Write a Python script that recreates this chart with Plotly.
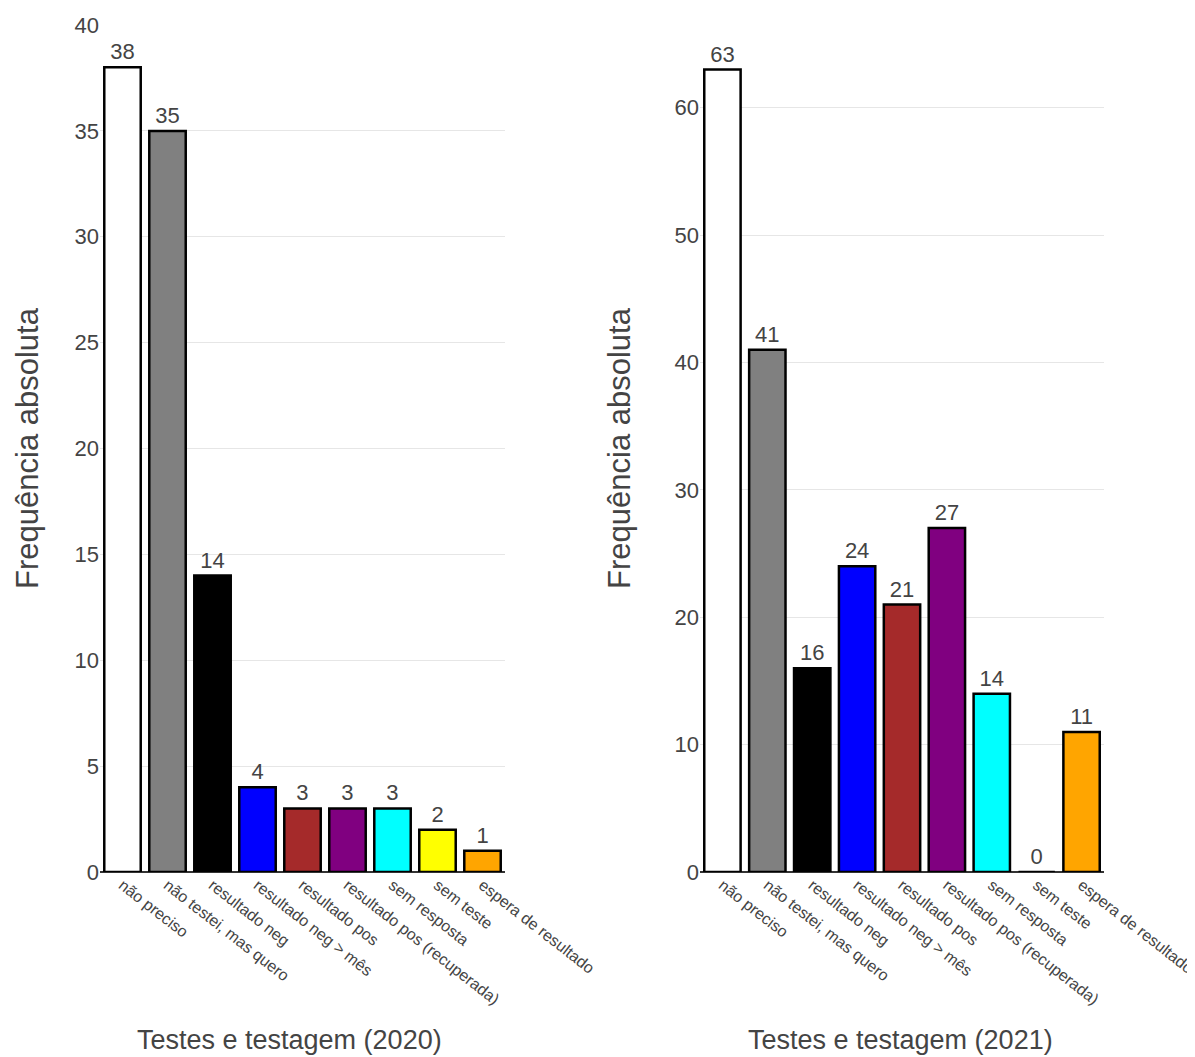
import plotly.graph_objects as go
from plotly.subplots import make_subplots

categories = ["não preciso", "não testei, mas quero", "resultado neg", "resultado neg > mês",
              "resultado pos", "resultado pos (recuperada)", "sem resposta", "sem teste",
              "espera de resultado"]
values_2020 = [38, 35, 14, 4, 3, 3, 3, 2, 1]
values_2021 = [63, 41, 16, 24, 21, 27, 14, 0, 11]
colors = ["#FFFFFF", "#808080", "#000000", "#0000FF", "#A52A2A", "#800080",
          "#00FFFF", "#FFFF00", "#FFA500"]
y_title = "Frequência absoluta"
x_title_2020 = "Testes e testagem (2020)"
x_title_2021 = "Testes e testagem (2021)"

FONT = "Liberation Sans, Arial, sans-serif"
GREY = "#444444"

fig = make_subplots(rows=1, cols=2)

for col, vals in [(1, values_2020), (2, values_2021)]:
    fig.add_trace(go.Bar(
        x=categories, y=vals,
        marker=dict(color=colors, line=dict(color="#000000", width=2.5)),
        text=[str(v) for v in vals], textposition="outside", cliponaxis=False,
        textfont=dict(family=FONT, size=22, color=GREY),
        showlegend=False,
    ), row=1, col=col)

W, H = 1195, 1057
OFF = 8  # page body margin
T, B = 25 - OFF, H - (872 - OFF)
plot_h = H - T - B

fig.update_layout(
    width=W, height=H,
    margin=dict(l=0, r=0, t=T, b=B),
    paper_bgcolor="white", plot_bgcolor="white",
    bargap=0.19,
    font=dict(family=FONT, color=GREY),
)

fig.update_xaxes(domain=[(100 - OFF) / W, (505 - OFF) / W], row=1, col=1)
fig.update_xaxes(domain=[(700 - OFF) / W, (1104 - OFF) / W], row=1, col=2)
fig.update_xaxes(tickangle=38, tickfont=dict(family=FONT, size=16, color=GREY),
                 showgrid=False, showline=False, ticks="", automargin=False)

fig.update_yaxes(showgrid=True, gridcolor="#E6E6E6", gridwidth=1,
                 zeroline=True, zerolinecolor="#333333", zerolinewidth=2,
                 showline=False, ticks="", automargin=False,
                 tickfont=dict(family=FONT, size=22, color=GREY),
                 title_text=y_title,
                 title_font=dict(family=FONT, size=31, color=GREY))
fig.update_yaxes(range=[0, 40], dtick=5, title_standoff=26, row=1, col=1)
fig.update_yaxes(range=[0, 66.5], dtick=10, title_standoff=34, row=1, col=2)

for xc, txt in [(289, x_title_2020), (900, x_title_2021)]:
    fig.add_annotation(
        text=txt, xref="paper", yref="paper",
        x=(xc - OFF) / W, y=-(1040 - 872) / plot_h,
        xanchor="center", yanchor="middle", showarrow=False,
        font=dict(family=FONT, size=27, color=GREY),
    )

fig.write_html("out.html")
